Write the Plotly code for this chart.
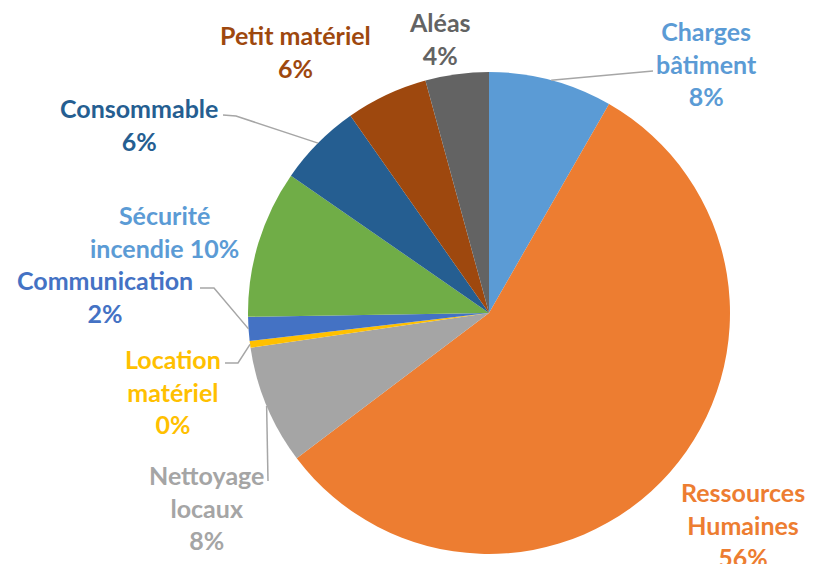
import math
import plotly.graph_objects as go

# ---- data ----
categories = ["Charges bâtiment", "Ressources Humaines", "Nettoyage locaux", "Location matériel",
              "Communication", "Sécurité incendie", "Consommable", "Petit matériel", "Aléas"]
values = [8.3, 56.4, 8.0, 0.45, 1.6, 9.9, 5.6, 5.5, 4.25]
pct_labels = ["8%", "56%", "8%", "0%", "2%", "10%", "6%", "6%", "4%"]
label_texts = ["Charges<br>bâtiment<br>8%", "Ressources<br>Humaines<br>56%", "Nettoyage<br>locaux<br>8%",
               "Location<br>matériel<br>0%", "Communication<br>2%", "Sécurité<br>incendie 10%",
               "Consommable<br>6%", "Petit matériel<br>6%", "Aléas<br>4%"]

# ---- styles / layout ----
OFF = 8                      # page body margin
W, H = 815 - OFF, 564 - OFF  # figure size so it fills the window
slice_colors = ["#5B9BD5", "#ED7D31", "#A5A5A5", "#FFC000", "#4472C4", "#70AD47", "#255E91", "#9E480E", "#636363"]
label_colors = ["#5B9BD5", "#ED7D31", "#A5A5A5", "#FFC000", "#4472C4", "#5B9BD5", "#255E91", "#9E480E", "#636363"]
# pie placement in window pixels
CX, CY, R = 489, 313, 241
# label block centres in window pixels
label_pos = [(706, 63), (743, 524), (206, 507), (173, 391), (105, 296), (164, 232), (139, 124), (295, 52), (440, 38)]
# leader line waypoints from label side (window pixels)
leader_pts = {
    0: [(653, 71)],
    2: [(268, 481)],
    3: [(225, 363), (238, 363)],
    4: [(200, 288), (214, 288)],
    6: [(223, 115), (236, 116)],
}
LINE_COLOR = "#A6A6A6"
FONT = "Lato"
FS = 25


def px2paper(x, y):
    return (x - OFF) / W, 1 - (y - OFF) / H


fig = go.Figure()
x0, y1 = px2paper(CX - R, CY - R)
x1, y0 = px2paper(CX + R, CY + R)
fig.add_trace(go.Pie(
    labels=categories, values=values, sort=False, direction="clockwise", rotation=0,
    marker=dict(colors=slice_colors, line=dict(width=0)),
    textinfo="none", hoverinfo="label+percent", showlegend=False,
    domain=dict(x=[x0, x1], y=[y0, y1]),
))

# mid-angle edge points computed from the data
total = sum(values)
cum = 0.0
edge = []
for v in values:
    mid = (cum + v / 2) / total * 2 * math.pi
    edge.append((CX + R * math.sin(mid), CY - R * math.cos(mid)))
    cum += v

shapes = []
for i, pts in leader_pts.items():
    allpts = pts + [edge[i]]
    path = "M " + " L ".join(f"{px2paper(x, y)[0]},{px2paper(x, y)[1]}" for x, y in allpts)
    shapes.append(dict(type="path", path=path, xref="paper", yref="paper",
                       line=dict(color=LINE_COLOR, width=1.5)))

annotations = []
for i, txt in enumerate(label_texts):
    x, y = px2paper(*label_pos[i])
    annotations.append(dict(x=x, y=y, xref="paper", yref="paper", text=f"<b>{txt}</b>",
                            showarrow=False, xanchor="center", yanchor="middle", align="center",
                            font=dict(family=FONT, size=FS, color=label_colors[i])))

fig.update_layout(width=W, height=H, margin=dict(l=0, r=0, t=0, b=0),
                  paper_bgcolor="white", plot_bgcolor="white",
                  shapes=shapes, annotations=annotations)
fig.write_html("out.html")
